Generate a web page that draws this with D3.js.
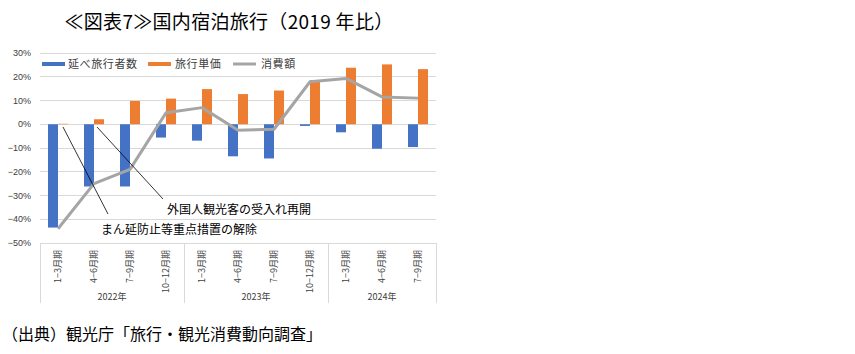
<!DOCTYPE html>
<html><head><meta charset="utf-8">
<script src="https://cdn.jsdelivr.net/npm/d3@7"></script>
<style>
body{margin:0;background:#fff;}
svg{display:block;}
text{font-family:"Noto Sans CJK JP","Noto Sans",sans-serif;}
</style></head><body>
<script>
const categories = ["1-3","4-6","7-9","10-12","1-3","4-6","7-9","10-12","1-3","4-6","7-9"];
const quarterLabels = ["1−3月期","4−6月期","7−9月期","10−12月期","1−3月期","4−6月期","7−9月期","10−12月期","1−3月期","4−6月期","7−9月期"];
const years = ["2022年","2023年","2024年"];
const yearSpans = [4,4,3];
const travelers = [-43.5,-26.2,-26.2,-5.6,-6.9,-13.5,-14.4,-0.7,-3.4,-10.3,-9.6];
const unitPrice = [0.2,2.1,9.8,10.8,14.8,12.7,14.2,18.6,23.8,25.2,23.2];
const spending = [-44,-25,-19,4.8,7,-2.5,-2.1,17.9,19.3,11.5,11];
const yTicks = [30,20,10,0,-10,-20,-30,-40,-50];
const seriesNames = ["延べ旅行者数","旅行単価","消費額"];
const colors = ["#4472c4","#ed7d31","#a5a5a5"];

const W=855,H=354;
const svg=d3.select("body").append("svg").attr("width",W).attr("height",H);
const idx=d3.range(categories.length);
const x=d3.scaleBand().domain(idx).range([40,436]).padding(0);
const xi=d3.scaleBand().domain([0,1]).range([0,x.bandwidth()]).paddingOuter(0.8).paddingInner(0);
const y=d3.scaleLinear().domain([-50,30]).range([243,53]);

// title
svg.append("text").attr("x",229).attr("y",29).attr("text-anchor","middle")
  .attr("font-size",19).attr("letter-spacing",0.3).attr("fill","#000").text("≪図表7≫国内宿泊旅行（2019 年比）");

// gridlines
svg.append("g").selectAll("line").data(yTicks).join("line")
  .attr("x1",40).attr("x2",436).attr("y1",d=>y(d)).attr("y2",d=>y(d))
  .attr("stroke","#d9d9d9").attr("stroke-width",1).attr("shape-rendering","crispEdges");
// y labels
svg.append("g").selectAll("text").data(yTicks).join("text")
  .attr("x",31).attr("y",d=>y(d)+3).attr("text-anchor","end")
  .attr("font-size",9).attr("fill","#404040")
  .style("font-family","'Liberation Sans',Arial,sans-serif")
  .text(d=>(d<0?"−"+(-d):d)+"%");

// bars
svg.append("g").selectAll("rect").data(idx).join("rect")
  .attr("x",i=>x(i)+xi(0)).attr("width",xi.bandwidth())
  .attr("y",i=>y(Math.max(0,travelers[i]))).attr("height",i=>Math.abs(y(travelers[i])-y(0)))
  .attr("fill",colors[0]);
svg.append("g").selectAll("rect").data(idx).join("rect")
  .attr("x",i=>x(i)+xi(1)).attr("width",xi.bandwidth())
  .attr("y",i=>y(Math.max(0,unitPrice[i]))).attr("height",i=>Math.abs(y(unitPrice[i])-y(0)))
  .attr("fill",colors[1]);
// line
const line=d3.line().x(i=>x(i)+x.bandwidth()/2).y(i=>y(spending[i]));
svg.append("path").datum(idx).attr("d",line).attr("fill","none")
  .attr("stroke",colors[2]).attr("stroke-width",3).attr("stroke-linejoin","round");

// category axis box
const ax=svg.append("g");
let cum=0;
const bounds=[0];
yearSpans.forEach(s=>{cum+=s;bounds.push(cum);});
bounds.forEach(b=>{
  const xx = b<categories.length ? x(b) : 436;
  ax.append("line").attr("x1",Math.round(xx)+0.5).attr("x2",Math.round(xx)+0.5).attr("y1",243).attr("y2",303)
    .attr("stroke","#d9d9d9");
});
ax.selectAll("text.q").data(idx).join("text").attr("class","q")
  .attr("transform",i=>`translate(${x(i)+x.bandwidth()/2+3},250) rotate(-90)`)
  .attr("text-anchor","end").attr("font-size",9).attr("fill","#404040").text(i=>quarterLabels[i]);
years.forEach((yr,k)=>{
  const a=x(bounds[k]); const b=bounds[k+1]<categories.length?x(bounds[k+1]):436;
  ax.append("text").attr("x",(a+b)/2).attr("y",300).attr("text-anchor","middle")
    .attr("font-size",9).attr("fill","#404040").text(yr);
});

// legend
const leg=[{x:42,tx:68},{x:148,tx:175},{x:233,tx:261}];
leg.forEach((l,k)=>{
  svg.append("line").attr("x1",l.x).attr("x2",l.x+23).attr("y1",64).attr("y2",64)
    .attr("stroke",colors[k]).attr("stroke-width",k==2?3:4);
  svg.append("text").attr("x",l.tx).attr("y",68).attr("font-size",11).attr("letter-spacing",0.6).attr("fill","#404040").text(seriesNames[k]);
});

// annotations
svg.append("line").attr("x1",63).attr("y1",127).attr("x2",108).attr("y2",214).attr("stroke","#000").attr("stroke-width",0.8);
svg.append("line").attr("x1",97).attr("y1",127).attr("x2",163).attr("y2",199).attr("stroke","#000").attr("stroke-width",0.8);
svg.append("rect").attr("x",165).attr("y",201).attr("width",152).attr("height",16).attr("fill","#fff");
svg.append("text").attr("x",167).attr("y",214).attr("font-size",12).attr("fill","#000").text("外国人観光客の受入れ再開");
svg.append("rect").attr("x",99).attr("y",221).attr("width",164).attr("height",17).attr("fill","#fff");
svg.append("text").attr("x",101).attr("y",234).attr("font-size",12).attr("fill","#000").text("まん延防止等重点措置の解除");

// source
svg.append("text").attr("x",2).attr("y",340).attr("font-size",16).attr("fill","#000").text("（出典）観光庁「旅行・観光消費動向調査」");
</script>
</body></html>
